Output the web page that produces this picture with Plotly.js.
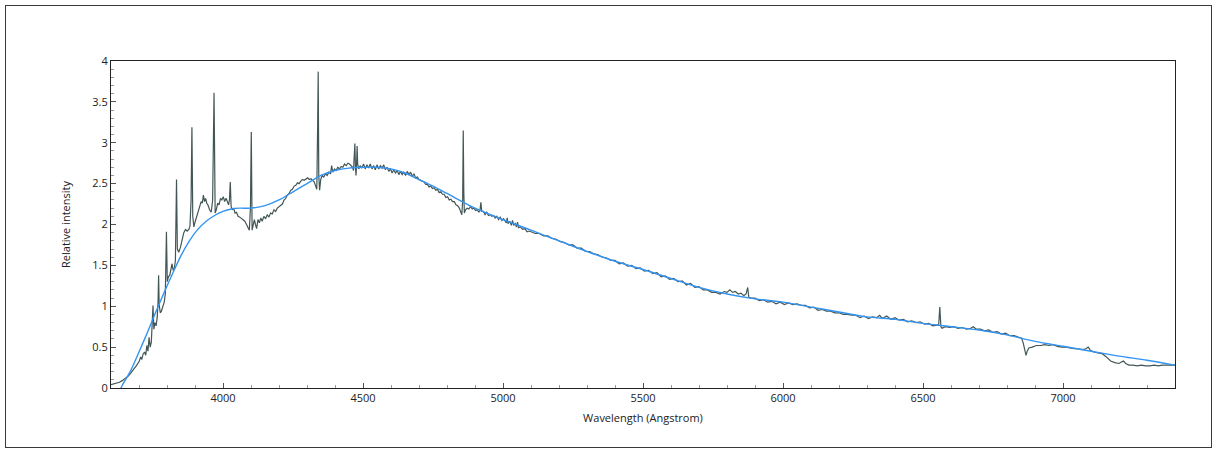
<!DOCTYPE html>
<html>
<head>
<meta charset="utf-8">
<script src="https://cdn.plot.ly/plotly-3.0.1.min.js"></script>
<style>
html,body{margin:0;padding:0;background:#fff;}
#chart{position:absolute;left:0;top:0;width:1217px;height:452px;}
#frame{position:absolute;left:5px;top:5px;width:1205px;height:441px;border:1px solid #3a3a3a;pointer-events:none;}
</style>
</head>
<body>
<div id="chart"></div>
<div id="frame"></div>
<script>
// Observed spectrum (wavelength in Angstrom, relative intensity)
const specWl = [
3600,3610,3620,3630,3640,3650,3660,3670,3680,3690,3700,3706,3710,3715,3720,3724,3728,3732,3736,3740,
3744,3747,3750,3753,3757,3761,3765,3768,3770,3772,3776,3780,3785,3790,3794,3798,3801,3805,3810,3814,
3818,3822,3826,3830,3834,3837,3842,3848,3854,3860,3866,3872,3878,3882,3886,3889,3892,3896,3901,3906,
3912,3918,3922,3926,3930,3934,3938,3942,3946,3952,3958,3963,3968,3972,3976,3981,3986,3991,3996,4001,
4006,4011,4016,4020,4023,4026,4029,4033,4038,4043,4048,4054,4060,4066,4072,4078,4084,4089,4094,4098,
4101,4104,4108,4112,4116,4120,4125,4130,4135,4140,4146,4152,4158,4164,4170,4176,4182,4188,4194,4200,
4206,4212,4218,4224,4230,4236,4242,4248,4254,4260,4266,4272,4278,4284,4290,4296,4302,4308,4314,4320,
4326,4331,4335,4338,4340,4342,4345,4349,4354,4360,4366,4372,4378,4384,4388,4392,4398,4404,4410,4416,
4422,4428,4434,4440,4446,4452,4458,4463,4466,4469,4471,4473,4475,4477,4479,4481,4485,4490,4496,4502,
4508,4514,4520,4526,4532,4538,4544,4550,4556,4562,4568,4574,4580,4586,4592,4598,4604,4610,4616,4622,
4628,4634,4640,4646,4652,4658,4664,4670,4676,4682,4688,4694,4700,4706,4712,4718,4724,4730,4736,4742,
4748,4754,4760,4766,4772,4778,4784,4790,4796,4802,4808,4814,4820,4826,4832,4838,4844,4849,4853,4856,
4858,4860,4862,4866,4872,4878,4884,4890,4896,4902,4908,4914,4918,4921,4924,4930,4936,4942,4948,4954,
4960,4966,4972,4978,4984,4990,4996,5002,5008,5012,5015,5018,5024,5030,5034,5038,5044,5048,5052,5055,
5062,5070,5078,5086,5094,5100,5115,5130,5145,5160,5175,5190,5205,5220,5235,5250,5265,5280,5295,5310,
5325,5340,5355,5370,5385,5400,5415,5430,5445,5460,5475,5490,5505,5520,5535,5550,5565,5580,5595,5610,
5625,5640,5655,5670,5685,5700,5715,5730,5745,5760,5775,5790,5800,5810,5820,5830,5840,5850,5860,5868,
5874,5878,5885,5900,5915,5930,5945,5960,5975,5990,6005,6020,6035,6050,6065,6080,6095,6110,6125,6140,
6155,6170,6185,6200,6215,6230,6245,6260,6275,6290,6305,6320,6335,6345,6355,6370,6385,6400,6415,6430,
6445,6460,6475,6490,6505,6520,6535,6550,6556,6560,6564,6568,6580,6595,6610,6625,6640,6655,6670,6680,
6690,6705,6720,6735,6750,6765,6780,6795,6810,6825,6840,6852,6858,6864,6868,6872,6878,6890,6905,6920,
6935,6950,6965,6980,6995,7010,7025,7040,7055,7070,7082,7090,7098,7110,7125,7140,7155,7170,7185,7200,
7210,7216,7224,7235,7250,7265,7280,7295,7310,7325,7340,7355,7370,7385,7400
];
const specFlux = [
0.04,0.05,0.06,0.07,0.09,0.11,0.14,0.18,0.22,0.27,0.32,0.38,0.35,0.42,0.44,0.40,0.52,0.45,0.62,0.50,
0.56,0.72,1.01,0.72,0.80,0.76,0.86,1.05,1.38,1.02,0.92,0.94,1.00,1.05,1.15,1.91,1.30,1.36,1.38,1.44,
1.52,1.44,1.46,1.56,2.55,1.70,1.66,1.72,1.82,1.90,1.94,1.92,1.94,1.98,2.30,3.19,2.10,1.97,2.04,2.10,
2.16,2.22,2.28,2.26,2.36,2.28,2.32,2.26,2.24,2.18,2.15,2.30,3.61,2.14,2.18,2.26,2.24,2.32,2.30,2.34,
2.28,2.32,2.26,2.24,2.30,2.52,2.22,2.18,2.20,2.14,2.15,2.10,2.09,2.07,2.06,2.04,2.00,1.96,1.93,2.20,
3.13,1.93,1.98,2.06,2.00,1.95,2.06,2.02,2.08,2.04,2.10,2.07,2.12,2.09,2.14,2.13,2.18,2.16,2.20,2.22,
2.24,2.25,2.30,2.32,2.36,2.38,2.42,2.43,2.47,2.48,2.51,2.50,2.53,2.55,2.54,2.56,2.57,2.55,2.56,2.54,
2.52,2.47,2.43,3.20,3.87,2.60,2.42,2.55,2.60,2.58,2.62,2.60,2.64,2.62,2.72,2.64,2.68,2.66,2.70,2.68,
2.71,2.70,2.74,2.72,2.75,2.74,2.72,2.70,2.66,2.80,2.99,2.70,2.60,2.72,2.96,2.74,2.68,2.72,2.69,2.74,
2.68,2.73,2.69,2.74,2.68,2.72,2.67,2.73,2.68,2.72,2.69,2.73,2.67,2.70,2.65,2.68,2.63,2.67,2.63,2.66,
2.61,2.65,2.61,2.64,2.60,2.65,2.61,2.64,2.59,2.62,2.57,2.58,2.55,2.54,2.53,2.52,2.49,2.49,2.46,2.47,
2.44,2.45,2.42,2.43,2.39,2.40,2.37,2.37,2.33,2.34,2.30,2.31,2.28,2.28,2.24,2.23,2.20,2.15,2.12,2.30,
3.15,2.40,2.14,2.18,2.20,2.19,2.22,2.19,2.20,2.17,2.18,2.15,2.18,2.27,2.16,2.16,2.12,2.15,2.11,2.12,
2.10,2.11,2.08,2.10,2.06,2.09,2.05,2.07,2.04,2.02,2.08,2.01,2.04,1.99,2.05,1.99,2.01,1.97,2.03,1.96,
1.97,1.94,1.95,1.91,1.92,1.91,1.89,1.89,1.86,1.86,1.83,1.82,1.79,1.78,1.75,1.75,1.71,1.71,1.67,1.67,
1.64,1.63,1.60,1.59,1.56,1.56,1.52,1.53,1.49,1.50,1.46,1.47,1.43,1.44,1.40,1.41,1.36,1.37,1.33,1.34,
1.30,1.31,1.26,1.28,1.23,1.24,1.20,1.20,1.17,1.17,1.15,1.18,1.17,1.20,1.17,1.18,1.15,1.16,1.13,1.15,
1.23,1.11,1.10,1.10,1.07,1.08,1.05,1.06,1.03,1.05,1.02,1.04,1.02,1.03,1.01,1.01,0.98,0.99,0.95,0.96,
0.94,0.94,0.92,0.92,0.90,0.90,0.89,0.89,0.86,0.88,0.85,0.87,0.86,0.89,0.85,0.88,0.84,0.86,0.83,0.84,
0.81,0.82,0.80,0.81,0.78,0.79,0.76,0.77,0.77,0.99,0.75,0.73,0.75,0.74,0.75,0.73,0.74,0.72,0.73,0.75,
0.72,0.72,0.70,0.71,0.68,0.69,0.66,0.67,0.64,0.64,0.62,0.61,0.55,0.44,0.40,0.45,0.49,0.50,0.52,0.52,
0.53,0.52,0.53,0.51,0.50,0.50,0.49,0.48,0.48,0.47,0.48,0.50,0.46,0.44,0.43,0.42,0.38,0.33,0.31,0.30,
0.32,0.33,0.30,0.28,0.28,0.27,0.28,0.27,0.27,0.28,0.27,0.28,0.28,0.28,0.28
];

// Fitted continuum
const contWl = [3620,3640,3670,3700,3730,3760,3790,3820,3850,3880,3910,3940,3970,4000,4030,4060,4100,4150,4200,4250,
4300,4350,4400,4450,4500,4550,4600,4650,4700,4750,4800,4900,5000,5100,5200,5300,5400,5500,5600,5700,
5800,5900,6000,6100,6200,6300,6400,6500,6600,6700,6800,6900,7000,7100,7200,7300,7400];
const contFlux = [-0.12,0.03,0.21,0.44,0.68,0.93,1.17,1.40,1.62,1.80,1.94,2.04,2.11,2.16,2.19,2.20,2.20,2.23,2.30,2.40,
2.50,2.60,2.66,2.69,2.70,2.70,2.68,2.63,2.55,2.47,2.38,2.20,2.06,1.93,1.80,1.67,1.55,1.45,1.34,1.23,
1.15,1.09,1.05,0.99,0.93,0.87,0.84,0.79,0.75,0.71,0.65,0.57,0.51,0.45,0.39,0.34,0.28];

const xTitle = 'Wavelength (Angstrom)';
const yTitle = 'Relative intensity';

const font = {family: '"Open Sans", "Segoe UI", Arial, sans-serif', size: 11, color: '#222'};

const traces = [
  {x: specWl, y: specFlux, type: 'scatter', mode: 'lines',
   line: {color: '#435656', width: 1.2}, hoverinfo: 'skip'},
  {x: contWl, y: contFlux, type: 'scatter', mode: 'lines',
   line: {color: '#3394f2', width: 1.4, shape: 'spline', smoothing: 0.8}, hoverinfo: 'skip'}
];

const layout = {
  width: 1217, height: 452,
  margin: {l: 111, r: 42, t: 61, b: 64},
  paper_bgcolor: 'rgba(0,0,0,0)', plot_bgcolor: '#fff',
  showlegend: false,
  font: font,
  xaxis: {
    range: [3600, 7400], dtick: 500, tick0: 4000,
    showgrid: false, zeroline: false,
    showline: true, linecolor: '#222', linewidth: 1, mirror: true,
    ticks: 'inside', ticklen: 5, tickcolor: '#555', tickwidth: 1,
    minor: {dtick: 100, ticks: 'inside', ticklen: 3, tickcolor: '#999', showgrid: false},
    tickfont: font,
    title: {text: xTitle, font: font, standoff: 10}
  },
  yaxis: {
    range: [0, 4], dtick: 0.5, tick0: 0,
    showgrid: false, zeroline: false,
    showline: true, linecolor: '#222', linewidth: 1, mirror: true,
    ticks: 'inside', ticklen: 5, tickcolor: '#555', tickwidth: 1,
    minor: {dtick: 0.1, ticks: 'inside', ticklen: 3, tickcolor: '#999', showgrid: false},
    tickfont: font,
    title: {text: yTitle, font: font, standoff: 19}
  }
};

Plotly.newPlot('chart', traces, layout, {displayModeBar: false, staticPlot: true});
</script>
</body>
</html>
